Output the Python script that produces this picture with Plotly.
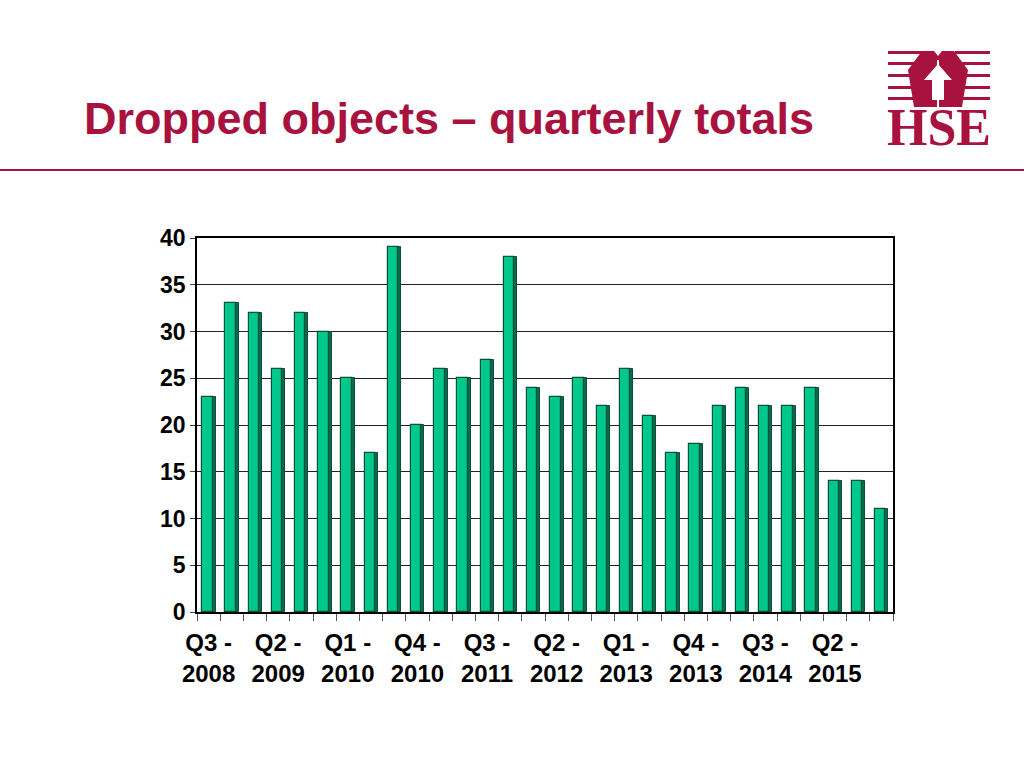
import plotly.graph_objects as go

quarters = ["Q3 - 2008","Q4 - 2008","Q1 - 2009","Q2 - 2009","Q3 - 2009","Q4 - 2009",
            "Q1 - 2010","Q2 - 2010","Q3 - 2010","Q4 - 2010","Q1 - 2011","Q2 - 2011",
            "Q3 - 2011","Q4 - 2011","Q1 - 2012","Q2 - 2012","Q3 - 2012","Q4 - 2012",
            "Q1 - 2013","Q2 - 2013","Q3 - 2013","Q4 - 2013","Q1 - 2014","Q2 - 2014",
            "Q3 - 2014","Q4 - 2014","Q1 - 2015","Q2 - 2015","Q3 - 2015","Q4 - 2015"]
totals = [23, 33, 32, 26, 32, 30, 25, 17, 39, 20, 26, 25, 27, 38, 24,
          23, 25, 22, 26, 21, 17, 18, 22, 24, 22, 22, 24, 14, 14, 11]
label_idx = list(range(0, 30, 3))
tick_text = ["<b>" + quarters[i].replace(" - ", " -<br>") + "</b>" for i in label_idx]
ytick_vals = list(range(0, 41, 5))
ytick_text = [f"<b>{v}</b>" for v in ytick_vals]

RED = "#A8123E"
GREEN = "#00C88C"
DARK = "#0B4F3A"

x = list(range(len(totals)))
fig = go.Figure()
# side face (3D look)
fig.add_trace(go.Bar(x=x, y=totals, width=0.13, offset=0.17,
                     marker=dict(color="#0A6B4C", line=dict(color=DARK, width=1)),
                     hoverinfo="skip", showlegend=False))
# front face
fig.add_trace(go.Bar(x=x, y=totals, width=0.45, offset=-0.28,
                     marker=dict(color=GREEN, line=dict(color=DARK, width=1.2)),
                     showlegend=False, hovertext=quarters))

W, H = 1024, 768
L, R, T, B = 197, 893, 238, 612
def px(v): return (v - L) / (R - L)
def py(v): return (B - v) / (B - T)

shapes = [
    dict(type="line", xref="paper", yref="paper", x0=px(0), x1=px(1024), y0=py(170), y1=py(170),
         line=dict(color=RED, width=2)),
]
# HSE logo stripes
for yy in [51, 62, 74, 86, 97]:
    shapes.append(dict(type="rect", xref="paper", yref="paper", x0=px(888), x1=px(922),
                       y0=py(yy+3), y1=py(yy), fillcolor=RED, line_width=0))
    shapes.append(dict(type="rect", xref="paper", yref="paper", x0=px(955), x1=px(990),
                       y0=py(yy+3), y1=py(yy), fillcolor=RED, line_width=0))
def path(pts):
    return "M " + " L ".join(f"{px(a):.5f},{py(b):.5f}" for a, b in pts) + " Z"
# emblem (stylised hands forming a house)
shapes.append(dict(type="path", xref="paper", yref="paper",
                   path=path([(922,51),(934,51),(938,56),(942,51),(954,51),(968,70),(962,107),(914,107),(908,70)]),
                   fillcolor=RED, line_width=0))
shapes.append(dict(type="path", xref="paper", yref="paper",
                   path=path([(938,64),(952,80),(944,80),(944,100),(932,100),(932,80),(924,80)]),
                   fillcolor="white", line_width=0))
shapes.append(dict(type="rect", xref="paper", yref="paper", x0=px(937), x1=px(939), y0=py(107), y1=py(60),
                   fillcolor="white", line_width=0))

fig.update_layout(
    width=W, height=H,
    margin=dict(l=L, r=W-R, t=T, b=H-B),
    plot_bgcolor="white", paper_bgcolor="white",
    barmode="overlay", bargap=0,
    font=dict(family="Liberation Sans, Arial, sans-serif", color="black"),
    xaxis=dict(range=[-0.5, 29.5], tickmode="array", tickvals=label_idx, ticktext=tick_text,
               ticks="", showgrid=False, showline=True, linecolor="black", linewidth=1.5,
               mirror=True, tickfont=dict(size=24), zeroline=False, ticklabelstandoff=8,
               minor=dict(tick0=-0.5, dtick=1, ticks="outside", ticklen=7, tickcolor="#555",
                          showgrid=False)),
    yaxis=dict(range=[0, 40], tickmode="array", tickvals=ytick_vals, ticktext=ytick_text,
               showgrid=True, gridcolor="#222", gridwidth=1,
               showline=True, linecolor="black", linewidth=1.5, mirror=True,
               ticks="outside", ticklen=5, tickfont=dict(size=23), zeroline=False),
    shapes=shapes,
    annotations=[
        dict(text="<b>Dropped objects – quarterly totals</b>", xref="paper", yref="paper",
             x=px(82), y=py(118), xanchor="left", yanchor="middle", showarrow=False,
             font=dict(size=45, color=RED, family="Liberation Sans, Arial, sans-serif")),
        dict(text="<b>HSE</b>", xref="paper", yref="paper", x=px(939), y=py(128),
             xanchor="center", yanchor="middle", showarrow=False,
             font=dict(size=52, color=RED, family="Liberation Serif, Times New Roman, serif")),
    ],
)
fig.write_html("out.html", config={"displayModeBar": False},
               post_script="document.body.style.margin='0';document.body.style.padding='0';")
